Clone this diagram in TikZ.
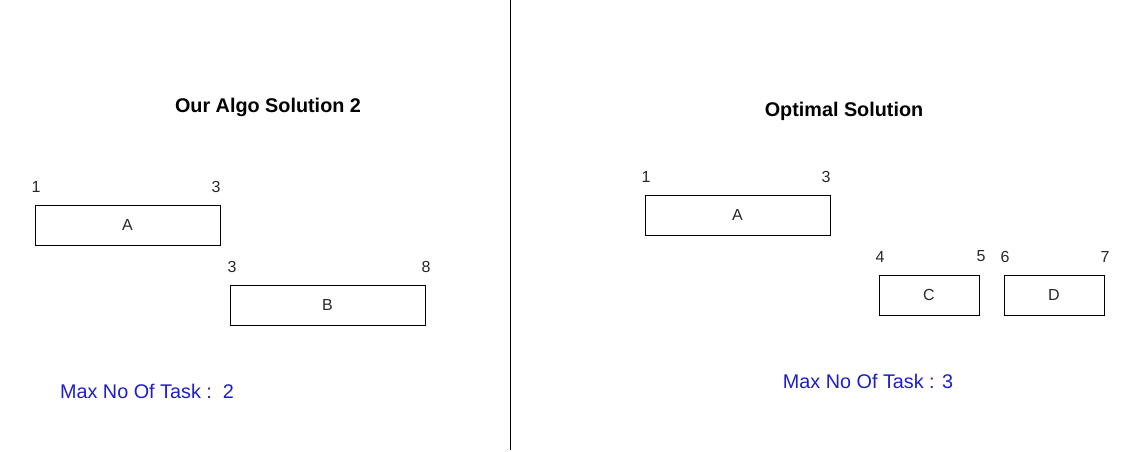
\documentclass[tikz,border=0pt]{standalone}
\usepackage{fontspec}
\setmainfont{Liberation Sans}
\begin{document}
\begin{tikzpicture}[x=1pt,y=-1pt,
  taskbox/.style={draw=black,line width=0.8pt,minimum width=185pt,minimum height=40pt,inner sep=0pt,font=\fontsize{16}{19}\selectfont,text=txtgray},
  shortbox/.style={taskbox,minimum width=100pt},
  num/.style={font=\fontsize{16}{19}\selectfont,inner sep=0pt,text=txtgray},
  title/.style={font=\fontsize{19.8}{23}\selectfont\bfseries,inner sep=0pt},
  maxlbl/.style={font=\fontsize{19.8}{23}\selectfont,text=maxblue,inner sep=0pt},
]
\definecolor{maxblue}{RGB}{30,30,200}
\definecolor{txtgray}{RGB}{40,40,40}
\useasboundingbox (0,0) rectangle (1140,452);
\draw[line width=1pt] (510.5,0) coordinate (vt) -- (510.5,450) coordinate (vb);
% left
\node[title] (t1) at (268,107.5) {Our Algo Solution 2};
\node[num] (l1) at (36,186.5) {1};
\node[num] (l3) at (216,186.5) {3};
\node[taskbox] (la) at (127.5,225) {\raisebox{-1pt}{A}};
\node[num] (l3b) at (232,266.5) {3};
\node[num] (l8) at (426,266.5) {8};
\node[taskbox,minimum width=195pt] (lb) at (327.5,305) {\raisebox{-1pt}{B}};
\node[maxlbl] (lm) at (147,391.5) {Max No Of Task :\ \ 2};
% right
\node[title] (t2) at (844,111.5) {Optimal Solution};
\node[num] (r1) at (646,176.5) {1};
\node[num] (r3) at (826,176.5) {3};
\node[taskbox] (ra) at (737.5,215) {\raisebox{-1pt}{A}};
\node[num] (r4) at (880,256.5) {4};
\node[num] (r5) at (981,256.5) {5};
\node[num] (r6) at (1005,256.5) {6};
\node[num] (r7) at (1105,256.5) {7};
\node[shortbox] (rc) at (929,295) {\raisebox{-1pt}{C}};
\node[shortbox] (rd) at (1054,295) {\raisebox{-1pt}{D}};
\node[maxlbl] (rm) at (868,381.5) {Max No Of Task : 3};
\end{tikzpicture}
\end{document}
